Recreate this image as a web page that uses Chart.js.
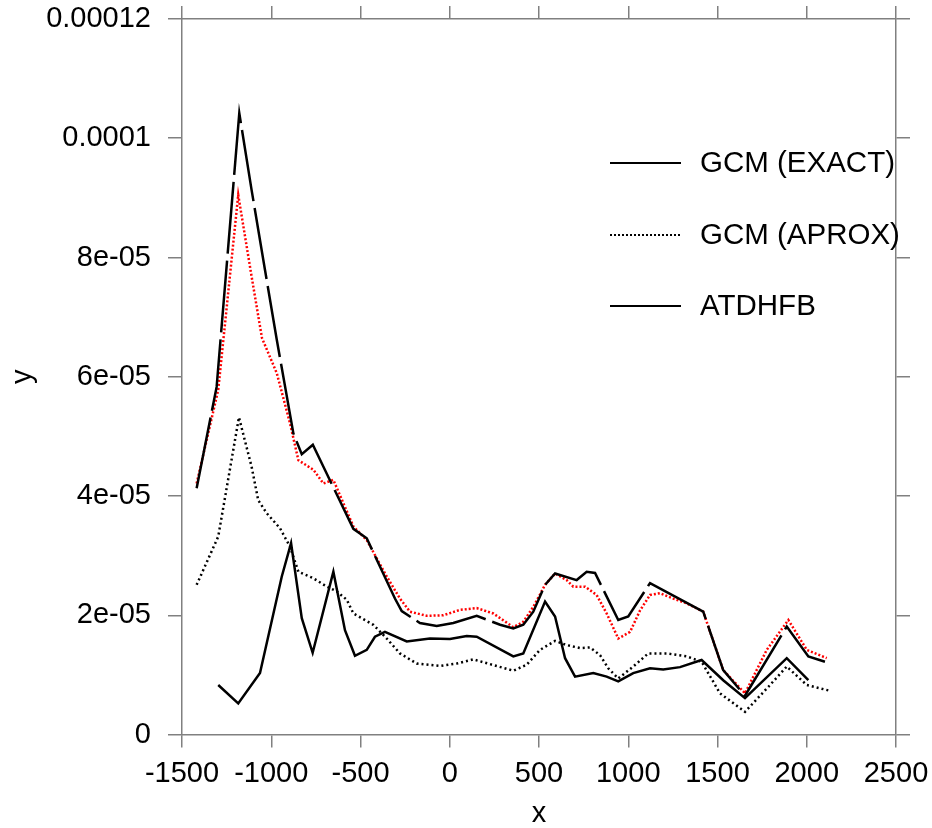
<!DOCTYPE html>
<html lang="en">
<head>
    <meta charset="UTF-8">
    <title>GCM vs ATDHFB</title>
    <script src="https://cdn.jsdelivr.net/npm/chart.js"></script>
    <style>
        body {
            margin: 0;
            padding: 0;
            background: #ffffff;
        }

        .chart-box {
            position: relative;
            width: 932px;
            height: 828px;
        }
    </style>
</head>
<body>
    <div class="chart-box">
        <canvas id="gcmChart"></canvas>
    </div>

    <script>
// values, y in units of 1e-5
const exactX = [-1418, -1306, -1179, -1110, -1035, -969, -876, -829, -767, -540, -465, -307, -269, -167, -73, 20, 151, 282, 356, 412, 468, 534, 590, 711, 767, 814, 944, 1000, 1122, 1383, 1420, 1532, 1654, 1888, 2009, 2102];
const exactY = [4.13, 5.83, 10.42, 9.13, 7.79, 6.62, 5.05, 4.70, 4.86, 3.45, 3.29, 2.28, 2.07, 1.87, 1.82, 1.87, 1.99, 1.84, 1.78, 1.84, 2.06, 2.51, 2.70, 2.59, 2.73, 2.71, 1.92, 1.98, 2.54, 2.12, 2.06, 1.08, 0.65, 1.81, 1.31, 1.22];

const redX = [-1418, -1297, -1185, -1110, -1052, -969, -895, -848, -764, -708, -652, -540, -465, -353, -279, -223, -129, -36, 57, 151, 244, 356, 412, 468, 534, 590, 655, 692, 758, 823, 879, 944, 1010, 1066, 1122, 1178, 1252, 1327, 1420, 1532, 1654, 1776, 1897, 2000, 2112];
const redY = [4.21, 5.78, 9.05, 7.68, 6.65, 6.06, 5.22, 4.60, 4.44, 4.21, 4.27, 3.49, 3.26, 2.65, 2.28, 2.06, 1.99, 2.00, 2.09, 2.12, 2.03, 1.80, 1.89, 2.14, 2.51, 2.70, 2.59, 2.48, 2.48, 2.34, 2.03, 1.61, 1.72, 2.08, 2.34, 2.37, 2.28, 2.20, 2.06, 1.08, 0.69, 1.42, 1.92, 1.42, 1.28];

const aproxX = [-1418, -1297, -1181, -1110, -1073, -1025, -951, -895, -848, -764, -689, -633, -577, -540, -428, -353, -279, -185, -55, 39, 132, 226, 356, 431, 506, 590, 655, 730, 786, 842, 888, 944, 1028, 1112, 1215, 1327, 1411, 1514, 1654, 1785, 1888, 2000, 2121];
const aproxY = [2.51, 3.32, 5.32, 4.49, 3.93, 3.71, 3.46, 3.15, 2.73, 2.62, 2.48, 2.40, 2.26, 2.03, 1.84, 1.61, 1.36, 1.19, 1.15, 1.19, 1.26, 1.18, 1.07, 1.17, 1.42, 1.57, 1.50, 1.45, 1.46, 1.33, 1.11, 0.94, 1.14, 1.36, 1.36, 1.31, 1.22, 0.69, 0.38, 0.80, 1.14, 0.83, 0.74];

const atdhfbX = [-1297, -1185, -1063, -941, -889, -829, -768, -652, -587, -531, -465, -419, -363, -241, -111, 1, 95, 151, 356, 412, 534, 590, 646, 702, 804, 879, 944, 1028, 1122, 1196, 1290, 1411, 1532, 1654, 1888, 2009];
const atdhfbY = [0.83, 0.52, 1.03, 2.65, 3.21, 1.95, 1.37, 2.73, 1.75, 1.32, 1.42, 1.64, 1.72, 1.56, 1.61, 1.60, 1.65, 1.64, 1.31, 1.36, 2.23, 1.98, 1.28, 0.97, 1.03, 0.97, 0.89, 1.03, 1.11, 1.09, 1.13, 1.25, 0.91, 0.61, 1.28, 0.91];

const yUnit = 1e-5;
const xTickLabels = ['-1500', '-1000', '-500', '0', '500', '1000', '1500', '2000', '2500'];
const yTickLabels = ['0', '2e-05', '4e-05', '6e-05', '8e-05', '0.0001', '0.00012'];

function toPoints(xs, ys) {
    return xs.map((x, i) => ({ x: x, y: ys[i] * yUnit }));
}

const axisGray = '#808080';
const fontFamily = '"Liberation Sans", Arial, sans-serif';
Chart.defaults.font.family = fontFamily;
Chart.defaults.font.size = 29;
Chart.defaults.color = '#000';

// legend drawn inside the plot, like the original
const legendRows = [
    { label: 'GCM (EXACT)', dash: [], y: 163 },
    { label: 'GCM (APROX)', dash: [2, 2], y: 235 },
    { label: 'ATDHFB', dash: [], y: 306 }
];

const innerLegend = {
    id: 'innerLegend',
    afterDraw(chart) {
        const ctx = chart.ctx;
        ctx.save();
        legendRows.forEach(row => {
            ctx.beginPath();
            ctx.setLineDash(row.dash);
            ctx.lineWidth = 2;
            ctx.strokeStyle = '#000';
            ctx.moveTo(610, row.y);
            ctx.lineTo(681, row.y);
            ctx.stroke();
            ctx.setLineDash([]);
            ctx.fillStyle = '#000';
            ctx.font = '29.5px ' + fontFamily;
            ctx.textBaseline = 'middle';
            ctx.textAlign = 'left';
            ctx.fillText(row.label, 700, row.y + 1);
        });
        ctx.restore();
    }
};

// stop tick-label overflow from shrinking the plot area
function noPadding(s) {
    s.paddingTop = 0;
    s.paddingBottom = 0;
    s.paddingLeft = 0;
    s.paddingRight = 0;
}

function hiddenAxis(extra) {
    return Object.assign({
        type: 'linear',
        grid: { drawOnChartArea: false, color: axisGray, lineWidth: 1.5, tickLength: 13 },
        border: { color: axisGray, width: 1.5 },
        ticks: { display: false }
    }, extra);
}

const ctx = document.getElementById('gcmChart').getContext('2d');
const gcmChart = new Chart(ctx, {
    type: 'line',
    data: {
        datasets: [
            {
                label: 'GCM (EXACT)',
                data: toPoints(exactX, exactY),
                borderColor: '#000',
                borderWidth: 2.5,
                borderDash: [72, 7],
                pointRadius: 0,
                tension: 0
            },
            {
                label: 'red',
                data: toPoints(redX, redY),
                borderColor: '#ff0000',
                borderWidth: 2.5,
                borderDash: [2, 2],
                pointRadius: 0,
                tension: 0
            },
            {
                label: 'GCM (APROX)',
                data: toPoints(aproxX, aproxY),
                borderColor: '#000',
                borderWidth: 2.5,
                borderDash: [2, 3],
                pointRadius: 0,
                tension: 0
            },
            {
                label: 'ATDHFB',
                data: toPoints(atdhfbX, atdhfbY),
                borderColor: '#000',
                borderWidth: 2.5,
                pointRadius: 0,
                tension: 0
            }
        ]
    },
    options: {
        responsive: true,
        maintainAspectRatio: false,
        animation: false,
        layout: { padding: 0 },
        plugins: {
            legend: { display: false },
            tooltip: { enabled: false }
        },
        scales: {
            x: {
                type: 'linear',
                position: 'bottom',
                min: -1500,
                max: 2500,
                grid: { drawOnChartArea: false, color: axisGray, lineWidth: 1.5, tickLength: 13 },
                border: { color: axisGray, width: 1.5 },
                ticks: {
                    stepSize: 500,
                    padding: 9,
                    maxRotation: 0,
                    callback: (v) => xTickLabels[Math.round((v + 1500) / 500)]
                },
                title: { display: true, text: 'x', font: { size: 29, lineHeight: 1 }, padding: 0 },
                afterFit: (s) => { s.height = 93.5; noPadding(s); }
            },
            x2: hiddenAxis({
                position: 'top',
                min: -1500,
                max: 2500,
                ticks: { display: false, stepSize: 500 },
                afterFit: (s) => { s.height = 19; noPadding(s); }
            }),
            y: {
                type: 'linear',
                position: 'left',
                min: 0,
                max: 0.00012,
                grid: { drawOnChartArea: false, color: axisGray, lineWidth: 1.5, tickLength: 14 },
                border: { color: axisGray, width: 1.5 },
                ticks: {
                    stepSize: 0.00002,
                    padding: 17,
                    callback: (v) => yTickLabels[Math.round(v / 0.00002)]
                },
                title: { display: true, text: 'y', font: { size: 29, lineHeight: 1 }, padding: { top: 8, bottom: 0 } },
                afterFit: (s) => { s.width = 182; noPadding(s); }
            },
            y2: hiddenAxis({
                position: 'right',
                min: 0,
                max: 0.00012,
                grid: { drawOnChartArea: false, color: axisGray, lineWidth: 1.5, tickLength: 14 },
                ticks: { display: false, stepSize: 0.00002 },
                afterFit: (s) => { s.width = 36; noPadding(s); }
            })
        }
    },
    plugins: [innerLegend]
});
    </script>
</body>
</html>
